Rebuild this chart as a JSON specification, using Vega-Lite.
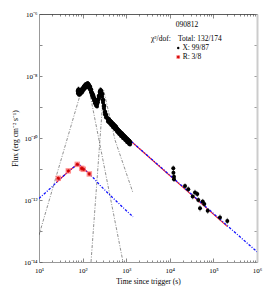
{
  "$schema": "https://vega.github.io/schema/vega-lite/v6.json",
  "width": 218,
  "height": 248,
  "autosize": {"type": "none"},
  "padding": {"left": 39, "top": 14, "right": 13, "bottom": 29},
  "background": "white",
  "config": {
    "view": {"stroke": null},
    "font": "Liberation Serif",
    "axis": {"labelFont": "Liberation Serif", "titleFont": "Liberation Serif", "grid": false, "labelFontSize": 7, "titleFontSize": 7.5, "titleFontWeight": "normal", "labelColor": "#000", "titleColor": "#000", "domainColor": "#999", "tickColor": "#555", "tickWidth": 0.7}
  },
  "datasets": {
    "blob": [
      {"t": 78.4, "f": 3.28e-9}, {"t": 80.5, "f": 3.6e-9}, {"t": 82.6, "f": 3.0e-9}, {"t": 87.2, "f": 3.05e-9}, {"t": 92, "f": 3.4e-9},
      {"t": 96.9, "f": 3.53e-9}, {"t": 102, "f": 4.0e-9}, {"t": 107.7, "f": 4.42e-9}, {"t": 113, "f": 4.9e-9}, {"t": 119.7, "f": 5.13e-9},
      {"t": 126, "f": 5.4e-9}, {"t": 133.0, "f": 5.52e-9}, {"t": 140, "f": 5.0e-9}, {"t": 147.8, "f": 4.42e-9}, {"t": 156, "f": 3.6e-9},
      {"t": 164.3, "f": 2.83e-9}, {"t": 173, "f": 2.4e-9}, {"t": 182.6, "f": 1.95e-9}, {"t": 192, "f": 1.6e-9}, {"t": 202.9, "f": 1.35e-9},
      {"t": 213.9, "f": 1.25e-9}, {"t": 225, "f": 1.7e-9}, {"t": 237.8, "f": 2.26e-9}, {"t": 250.6, "f": 3.05e-9}, {"t": 257, "f": 3.4e-9},
      {"t": 264.2, "f": 3.28e-9}, {"t": 278.6, "f": 2.62e-9}, {"t": 293.7, "f": 1.68e-9}, {"t": 309.6, "f": 1.08e-9}, {"t": 326.4, "f": 6.9e-10},
      {"t": 344.1, "f": 5.52e-10}, {"t": 382.4, "f": 4.1e-10}, {"t": 400, "f": 3.9e-10}, {"t": 425.1, "f": 3.53e-10}, {"t": 450, "f": 3.2e-10},
      {"t": 472.4, "f": 3.05e-10}, {"t": 500, "f": 2.7e-10}, {"t": 525.1, "f": 2.62e-10}, {"t": 555, "f": 2.3e-10}, {"t": 583.6, "f": 2.26e-10},
      {"t": 615, "f": 1.95e-10}, {"t": 648.5, "f": 1.81e-10}, {"t": 685, "f": 1.65e-10}, {"t": 720.8, "f": 1.56e-10}, {"t": 760, "f": 1.4e-10},
      {"t": 801.2, "f": 1.35e-10}, {"t": 845, "f": 1.2e-10}, {"t": 890.3, "f": 1.16e-10}, {"t": 940, "f": 1.05e-10}, {"t": 989.5, "f": 1.0e-10},
      {"t": 1045, "f": 9.0e-11}, {"t": 1099.8, "f": 8.61e-11}, {"t": 1160, "f": 7.9e-11}, {"t": 1222.3, "f": 7.43e-11}
    ],
    "late": [
      {"t": 12030, "f": 1.05e-11, "lo": 8.5e-12, "hi": 1.3e-11},
      {"t": 12100, "f": 7.59e-12, "lo": 6.2e-12, "hi": 9.3e-12},
      {"t": 12480, "f": 5.62e-12, "lo": 4.6e-12, "hi": 6.9e-12},
      {"t": 12480, "f": 4.68e-12, "lo": 3.8e-12, "hi": 5.7e-12},
      {"t": 22330, "f": 2.82e-12, "lo": 2.3e-12, "hi": 3.45e-12},
      {"t": 26550, "f": 2.24e-12, "lo": 1.8e-12, "hi": 2.75e-12},
      {"t": 33500, "f": 1.29e-12, "lo": 1.05e-12, "hi": 1.6e-12},
      {"t": 37840, "f": 1.74e-12, "lo": 1.4e-12, "hi": 2.15e-12},
      {"t": 42740, "f": 1.55e-12, "lo": 1.25e-12, "hi": 1.9e-12},
      {"t": 45080, "f": 1.0e-12, "lo": 8.2e-13, "hi": 1.22e-12},
      {"t": 49300, "f": 5.37e-13, "lo": 4.3e-13, "hi": 6.7e-13},
      {"t": 56880, "f": 8.91e-13, "lo": 7.3e-13, "hi": 1.09e-12},
      {"t": 61840, "f": 7.41e-13, "lo": 6.0e-13, "hi": 9.1e-13},
      {"t": 73960, "f": 4.47e-13, "lo": 3.6e-13, "hi": 5.5e-13},
      {"t": 141600, "f": 2.75e-13, "lo": 2.2e-13, "hi": 3.4e-13},
      {"t": 208300, "f": 2.09e-13, "lo": 1.65e-13, "hi": 2.65e-13}
    ],
    "rband": [
      {"t": 27.7, "f": 5.01e-12}, {"t": 47, "f": 8.71e-12}, {"t": 75.5, "f": 1.41e-11},
      {"t": 95.3, "f": 1.05e-11}, {"t": 103.7, "f": 9.77e-12}, {"t": 142.6, "f": 6.92e-12}
    ],
    "blue": [
      {"s": "R", "t": 10, "f": 1.12e-12}, {"s": "R", "t": 15, "f": 1.86e-12}, {"s": "R", "t": 20, "f": 2.69e-12},
      {"s": "R", "t": 30, "f": 4.68e-12}, {"s": "R", "t": 45, "f": 7.76e-12}, {"s": "R", "t": 60, "f": 1.10e-11},
      {"s": "R", "t": 73, "f": 1.35e-11}, {"s": "R", "t": 85, "f": 1.35e-11}, {"s": "R", "t": 100, "f": 1.12e-11},
      {"s": "R", "t": 130, "f": 7.94e-12}, {"s": "R", "t": 180, "f": 5.01e-12}, {"s": "R", "t": 250, "f": 3.02e-12},
      {"s": "R", "t": 400, "f": 1.55e-12}, {"s": "R", "t": 700, "f": 7.41e-13}, {"s": "R", "t": 1000, "f": 4.57e-13},
      {"s": "R", "t": 1430, "f": 2.88e-13},
      {"s": "X", "t": 363, "f": 3.80e-10}, {"s": "X", "t": 1000000, "f": 2.14e-14}
    ],
    "red": [
      {"s": "R", "t": 25, "f": 3.63e-12}, {"s": "R", "t": 30, "f": 4.68e-12}, {"s": "R", "t": 45, "f": 7.76e-12},
      {"s": "R", "t": 60, "f": 1.10e-11}, {"s": "R", "t": 73, "f": 1.35e-11}, {"s": "R", "t": 85, "f": 1.35e-11},
      {"s": "R", "t": 100, "f": 1.12e-11}, {"s": "R", "t": 130, "f": 7.94e-12}, {"s": "R", "t": 145, "f": 6.76e-12},
      {"s": "X", "t": 363, "f": 3.80e-10}, {"s": "X", "t": 210000, "f": 1.38e-13}
    ],
    "comp": [
      {"s": "c1", "t": 10, "f": 7.41e-14}, {"s": "c1", "t": 103.8, "f": 5.52e-9}, {"s": "c1", "t": 133, "f": 5.52e-9}, {"s": "c1", "t": 845, "f": 1e-14},
      {"s": "c2", "t": 156, "f": 1e-14}, {"s": "c2", "t": 303, "f": 3.55e-9}, {"s": "c2", "t": 553, "f": 8.71e-11}, {"s": "c2", "t": 1432, "f": 1.70e-12}
    ],
    "notesC": [
      {"t": 24800, "f": 4.41e-7, "label": "090812"}
    ],
    "notesL": [
      {"t": 3700, "f": 1.56e-7, "label": "χ²/dof:"},
      {"t": 15400, "f": 1.56e-7, "label": "Total: 132/174"},
      {"t": 19500, "f": 8.0e-8, "label": "X: 99/87"},
      {"t": 19700, "f": 4.1e-8, "label": "R: 3/8"}
    ],
    "keyX": [{"t": 15600, "f": 8.0e-8}],
    "keyR": [{"t": 15600, "f": 4.1e-8}]
  },
  "resolve": {"axis": {"x": "independent", "y": "independent"}},
  "layer": [
    {
      "data": {"name": "comp"},
      "mark": {"type": "line", "clip": true, "color": "#444", "strokeWidth": 0.6, "strokeDash": [3, 1.5, 1, 1.5]},
      "encoding": {
        "x": {"field": "t", "type": "quantitative", "scale": {"type": "log", "domain": [10, 1000000], "nice": false},
          "axis": {"orient": "top", "values": [10,20,30,40,50,60,70,80,90,100,200,300,400,500,600,700,800,900,1000,2000,3000,4000,5000,6000,7000,8000,9000,10000,20000,30000,40000,50000,60000,70000,80000,90000,100000,200000,300000,400000,500000,600000,700000,800000,900000,1000000],
            "labels": false, "title": null, "domainColor": "#333", "domainWidth": 0.8,
            "tickSize": {"condition": {"test": "abs(log(datum.value)/LN10 - round(log(datum.value)/LN10)) < 0.001", "value": -4}, "value": -2}}},
        "y": {"field": "f", "type": "quantitative", "scale": {"type": "log", "domain": [1e-14, 1e-6], "nice": false},
          "axis": {"orient": "right", "values": [1e-14,1e-13,1e-12,1e-11,1e-10,1e-9,1e-8,1e-7,1e-6], "labels": false, "title": null, "domainColor": "#ccc", "domainWidth": 2, "tickSize": -3, "tickColor": "#777"}},
        "detail": {"field": "s"}
      }
    },
    {
      "data": {"name": "red"},
      "mark": {"type": "line", "clip": true, "color": "#ff2020", "strokeWidth": 1.1},
      "encoding": {
        "x": {"field": "t", "type": "quantitative", "axis": {"orient": "bottom", "values": [10,20,30,40,50,60,70,80,90,100,200,300,400,500,600,700,800,900,1000,2000,3000,4000,5000,6000,7000,8000,9000,10000,20000,30000,40000,50000,60000,70000,80000,90000,100000,200000,300000,400000,500000,600000,700000,800000,900000,1000000],
            "labelExpr": "abs(log(datum.value)/LN10 - round(log(datum.value)/LN10)) < 0.001 ? (round(log(datum.value)/LN10) == 1 ? '10¹' : round(log(datum.value)/LN10) == 2 ? '10²' : round(log(datum.value)/LN10) == 3 ? '10³' : round(log(datum.value)/LN10) == 4 ? '10⁴' : round(log(datum.value)/LN10) == 5 ? '10⁵' : '10⁶') : ''",
            "title": "Time since trigger (s)", "labelPadding": 8, "titlePadding": 2, "labelFlush": false, "labelOverlap": false,
            "tickSize": {"condition": {"test": "abs(log(datum.value)/LN10 - round(log(datum.value)/LN10)) < 0.001", "value": -4}, "value": -2}}},
        "y": {"field": "f", "type": "quantitative", "axis": {"orient": "left", "values": [1e-14,1e-13,1e-12,1e-11,1e-10,1e-9,1e-8,1e-7,1e-6],
            "labelExpr": "round(log(datum.value)/LN10) == -6 ? '10⁻⁶' : round(log(datum.value)/LN10) == -8 ? '10⁻⁸' : round(log(datum.value)/LN10) == -10 ? '10⁻¹⁰' : round(log(datum.value)/LN10) == -12 ? '10⁻¹²' : round(log(datum.value)/LN10) == -14 ? '10⁻¹⁴' : ''",
            "title": "Flux (erg cm⁻² s⁻¹)", "labelPadding": 5, "titlePadding": 4, "labelFlush": false, "labelOverlap": false, "tickSize": -3}},
        "detail": {"field": "s"}
      }
    },
    {
      "data": {"name": "blue"},
      "mark": {"type": "line", "clip": true, "color": "#1010ff", "strokeWidth": 1.3, "strokeDash": [2.5, 1.5, 1, 1.5]},
      "encoding": {
        "x": {"field": "t", "type": "quantitative", "axis": null},
        "y": {"field": "f", "type": "quantitative", "axis": null},
        "detail": {"field": "s"}
      }
    },
    {
      "data": {"name": "blob"},
      "mark": {"type": "rule", "color": "#000", "strokeWidth": 1.5, "clip": true, "yOffset": -3, "y2Offset": 4},
      "encoding": {
        "x": {"field": "t", "type": "quantitative", "axis": null},
        "y": {"field": "f", "type": "quantitative", "axis": null},
        "y2": {"field": "f"}
      }
    },
    {
      "data": {"name": "blob"},
      "mark": {"type": "point", "filled": true, "color": "#000", "size": 22, "opacity": 1, "clip": true},
      "encoding": {
        "x": {"field": "t", "type": "quantitative", "axis": null},
        "y": {"field": "f", "type": "quantitative", "axis": null}
      }
    },
    {
      "data": {"name": "blob"},
      "mark": {"type": "point", "filled": true, "color": "#000", "size": 16, "opacity": 1, "clip": true, "yOffset": 2.5},
      "encoding": {
        "x": {"field": "t", "type": "quantitative", "axis": null},
        "y": {"field": "f", "type": "quantitative", "axis": null}
      }
    },
    {
      "data": {"name": "late"},
      "mark": {"type": "rule", "color": "#555", "strokeWidth": 0.8, "clip": true},
      "encoding": {
        "x": {"field": "t", "type": "quantitative", "axis": null},
        "y": {"field": "lo", "type": "quantitative", "axis": null},
        "y2": {"field": "hi"}
      }
    },
    {
      "data": {"name": "late"},
      "mark": {"type": "point", "filled": true, "color": "#000", "size": 16, "opacity": 1, "clip": true},
      "encoding": {
        "x": {"field": "t", "type": "quantitative", "axis": null},
        "y": {"field": "f", "type": "quantitative", "axis": null}
      }
    },
    {
      "data": {"name": "rband"},
      "mark": {"type": "point", "shape": "square", "filled": true, "color": "#ff7070", "size": 30, "opacity": 0.75, "clip": true},
      "encoding": {
        "x": {"field": "t", "type": "quantitative", "axis": null},
        "y": {"field": "f", "type": "quantitative", "axis": null}
      }
    },
    {
      "data": {"name": "rband"},
      "mark": {"type": "point", "shape": "M-1,0L1,0M0,-1L0,1M-0.7,-0.7L0.7,0.7M-0.7,0.7L0.7,-0.7", "filled": false, "color": "#d00000", "strokeWidth": 1, "size": 12, "opacity": 1, "clip": true},
      "encoding": {
        "x": {"field": "t", "type": "quantitative", "axis": null},
        "y": {"field": "f", "type": "quantitative", "axis": null}
      }
    },
    {
      "data": {"name": "keyX"},
      "mark": {"type": "point", "filled": true, "color": "#000", "size": 6, "opacity": 1},
      "encoding": {
        "x": {"field": "t", "type": "quantitative", "axis": null},
        "y": {"field": "f", "type": "quantitative", "axis": null}
      }
    },
    {
      "data": {"name": "keyR"},
      "mark": {"type": "point", "shape": "square", "filled": true, "color": "#ff7070", "size": 14, "opacity": 0.75},
      "encoding": {
        "x": {"field": "t", "type": "quantitative", "axis": null},
        "y": {"field": "f", "type": "quantitative", "axis": null}
      }
    },
    {
      "data": {"name": "keyR"},
      "mark": {"type": "point", "shape": "M-1,0L1,0M0,-1L0,1M-0.7,-0.7L0.7,0.7M-0.7,0.7L0.7,-0.7", "filled": false, "color": "#d00000", "strokeWidth": 0.8, "size": 8, "opacity": 1},
      "encoding": {
        "x": {"field": "t", "type": "quantitative", "axis": null},
        "y": {"field": "f", "type": "quantitative", "axis": null}
      }
    },
    {
      "data": {"name": "notesC"},
      "mark": {"type": "text", "font": "Liberation Serif", "fontSize": 7.5, "baseline": "middle", "align": "center", "color": "#000"},
      "encoding": {
        "x": {"field": "t", "type": "quantitative", "axis": null},
        "y": {"field": "f", "type": "quantitative", "axis": null},
        "text": {"field": "label"}
      }
    },
    {
      "data": {"name": "notesL"},
      "mark": {"type": "text", "font": "Liberation Serif", "fontSize": 7.5, "baseline": "middle", "align": "left", "color": "#000"},
      "encoding": {
        "x": {"field": "t", "type": "quantitative", "axis": null},
        "y": {"field": "f", "type": "quantitative", "axis": null},
        "text": {"field": "label"}
      }
    }
  ]
}
